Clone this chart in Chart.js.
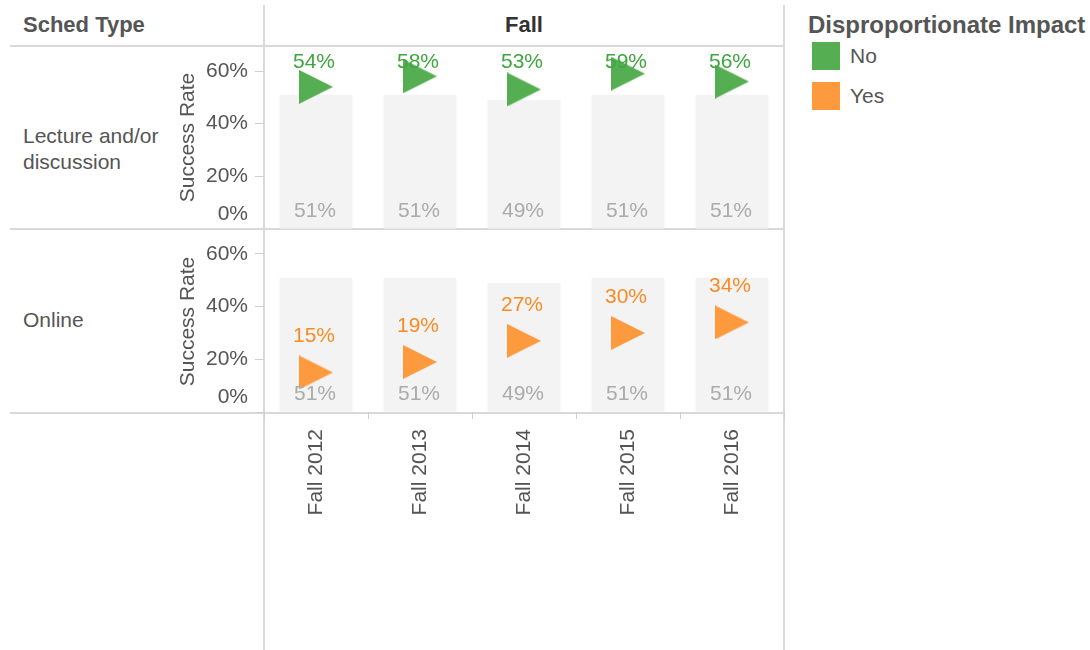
<!DOCTYPE html>
<html>
<head>
<meta charset="utf-8">
<script src="https://cdn.jsdelivr.net/npm/chart.js@4.4.0/dist/chart.umd.min.js"></script>
<style>
  body { margin: 0; width: 1090px; height: 650px; background: #fff; position: relative; overflow: hidden;
         font-family: "Liberation Sans", Arial, sans-serif; color: #555; }
  .hline { position: absolute; height: 2px; background: #d9d9d9; }
  .vline { position: absolute; width: 2px; background: #d9d9d9; }
  .txt { position: absolute; white-space: nowrap; }
  canvas { position: absolute; }
  .swatch { position: absolute; width: 28px; height: 28px; }
</style>
</head>
<body>
<div class="vline" style="left:263px; top:5px; height:645px;"></div>
<div class="vline" style="left:783px; top:5px; height:645px;"></div>
<div class="hline" style="left:10px; top:45px; width:775px;"></div>
<div class="hline" style="left:10px; top:228px; width:775px;"></div>
<div class="hline" style="left:10px; top:412px; width:775px;"></div>

<div class="txt" id="schedHeader" style="left:23px; top:12px; font-size:22px; font-weight:bold; color:#555;"></div>
<div class="txt" id="termHeader" style="left:264px; width:520px; top:12px; text-align:center; font-size:22px; font-weight:bold; color:#333;"></div>
<div class="txt" id="row0" style="left:23px; top:123px; font-size:21px; line-height:26px;"></div>
<div class="txt" id="row1" style="left:23px; top:307px; font-size:21px; line-height:26px;"></div>

<div class="txt" id="legendTitle" style="left:808px; top:11px; font-size:24px; font-weight:bold; color:#555;"></div>
<div class="swatch" style="left:812px; top:42px; background:#55af52;"></div>
<div class="txt" id="legend0" style="left:850px; top:44px; font-size:21px;"></div>
<div class="swatch" style="left:812px; top:82px; background:#fd9a3e;"></div>
<div class="txt" id="legend1" style="left:850px; top:84px; font-size:21px;"></div>

<canvas id="topChart" width="620" height="183" style="left:170px; top:46px;"></canvas>
<canvas id="bottomChart" width="620" height="419" style="left:170px; top:231px;"></canvas>

<script>
const terms = ['Fall 2012', 'Fall 2013', 'Fall 2014', 'Fall 2015', 'Fall 2016'];
const schedTypes = ['Lecture and/or\ndiscussion', 'Online'];
const impactLabels = ['No', 'Yes'];
const lectureRates = [54, 58, 53, 59, 56];
const onlineRates = [15, 19, 27, 30, 34];
const lectureBaseline = [51, 51, 49, 51, 51];
const onlineBaseline = [51, 51, 49, 51, 51];

const FONT = '"Liberation Sans", Arial, sans-serif';
const GREEN = '#55af52';
const ORANGE = '#fd9a3e';

document.getElementById('schedHeader').textContent = 'Sched Type';
document.getElementById('termHeader').textContent = 'Fall';
document.getElementById('row0').innerText = schedTypes[0];
document.getElementById('row1').innerText = schedTypes[1];
document.getElementById('legendTitle').textContent = 'Disproportionate Impact';
document.getElementById('legend0').textContent = impactLabels[0];
document.getElementById('legend1').textContent = impactLabels[1];

// right-pointing triangle used as the point style
function triangle(color) {
    const c = document.createElement('canvas');
    c.width = 34;
    c.height = 34;
    const g = c.getContext('2d');
    g.fillStyle = color;
    g.beginPath();
    g.moveTo(0, 0);
    g.lineTo(34, 17);
    g.lineTo(0, 34);
    g.closePath();
    g.fill();
    return c;
}

const valueLabels = {
    id: 'valueLabels',
    afterDatasetsDraw(chart, args, opts) {
        const ctx = chart.ctx;
        const area = chart.chartArea;
        ctx.save();
        ctx.font = '21px ' + FONT;
        ctx.textAlign = 'center';
        ctx.textBaseline = 'middle';
        const pts = chart.getDatasetMeta(0).data;
        pts.forEach((pt, i) => {
            ctx.fillStyle = opts.color;
            const y = Math.max(pt.y - 36, area.top + 16);
            ctx.fillText(chart.data.datasets[0].data[i] + '%', pt.x - 2, y);
        });
        const bars = chart.getDatasetMeta(1).data;
        bars.forEach((bar, i) => {
            ctx.fillStyle = '#ababab';
            ctx.fillText(chart.data.datasets[1].data[i] + '%', bar.x - 1, area.bottom - 18);
        });
        ctx.restore();
    }
};

function yAxis(max) {
    return {
        min: 0,
        max: max,
        border: { display: false },
        grid: { drawOnChartArea: false, tickLength: 9, color: '#cfcfcf' },
        ticks: {
            stepSize: 20,
            includeBounds: false,
            autoSkip: false,
            padding: 7,
            color: '#555',
            font: { family: FONT, size: 21, lineHeight: 1.45 },
            callback: v => v === 0 ? ['0%', ''] : v + '%'
        },
        title: {
            display: true,
            text: 'Success Rate',
            color: '#555',
            font: { family: FONT, size: 21 },
            padding: { top: 6, bottom: 0 }
        },
        afterFit: s => { s.width = 94; s.paddingTop = 0; s.paddingBottom = 0; }
    };
}

function renderPanel(canvasId, rates, baseline, color, labelColor, max, showX) {
    const ctx = document.getElementById(canvasId).getContext('2d');
    new Chart(ctx, {
        type: 'bar',
        data: {
            labels: terms,
            datasets: [{
                type: 'line',
                data: rates,
                showLine: false,
                pointStyle: triangle(color),
                pointRadius: 17,
                clip: false
            }, {
                data: baseline,
                backgroundColor: '#f3f3f3',
                categoryPercentage: 0.7,
                barPercentage: 1
            }]
        },
        options: {
            responsive: false,
            animation: false,
            events: [],
            layout: { autoPadding: false, padding: { left: 0, right: 6, top: 0, bottom: 0 } },
            plugins: {
                legend: { display: false },
                tooltip: { enabled: false },
                valueLabels: { color: labelColor }
            },
            scales: {
                x: {
                    display: showX,
                    border: { display: false },
                    grid: { drawOnChartArea: false, offset: true, tickLength: 7, color: '#cfcfcf' },
                    ticks: {
                        minRotation: 90,
                        maxRotation: 90,
                        autoSkip: false,
                        padding: 10,
                        color: '#555',
                        font: { family: FONT, size: 21 }
                    },
                    afterFit: s => {
                        if (showX) s.height = 238;
                        s.paddingLeft = 0;
                        s.paddingRight = 0;
                    }
                },
                y: yAxis(max)
            }
        },
        plugins: [valueLabels]
    });
}

renderPanel('topChart', lectureRates, lectureBaseline, GREEN, '#3fa63d', 69.5, false);
renderPanel('bottomChart', onlineRates, onlineBaseline, ORANGE, '#f98b24', 68.7, true);
</script>
</body>
</html>
